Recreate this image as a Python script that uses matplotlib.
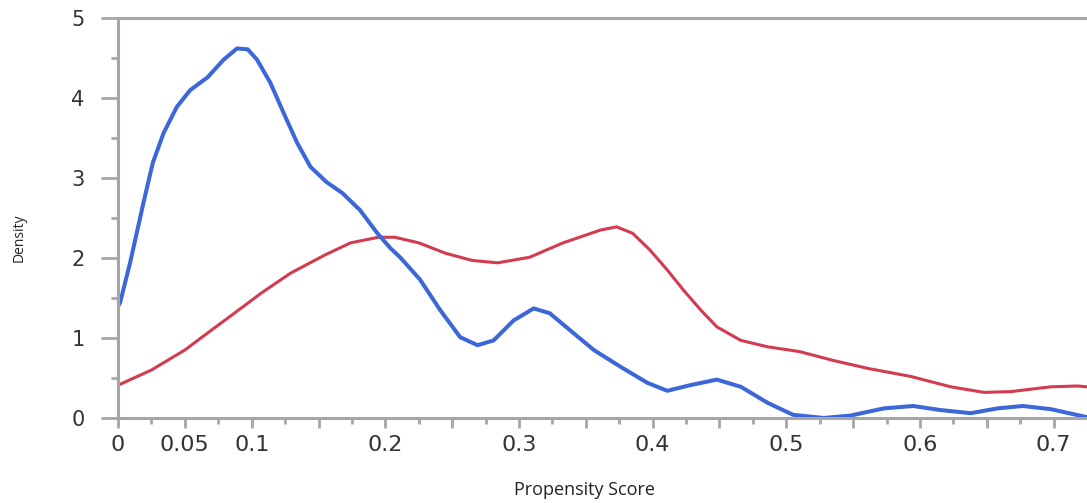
import matplotlib
matplotlib.use("Agg")
import matplotlib.pyplot as plt
import numpy as np

# blue curve
blue_x = [0.0, 0.0015, 0.009, 0.019, 0.026, 0.034, 0.044, 0.054, 0.067, 0.079,
          0.089, 0.097, 0.104, 0.114, 0.124, 0.134, 0.144, 0.156, 0.168, 0.181,
          0.194, 0.204, 0.211, 0.226, 0.241, 0.256, 0.269, 0.281, 0.296, 0.311,
          0.323, 0.338, 0.356, 0.376, 0.396, 0.411, 0.428, 0.448, 0.466, 0.486,
          0.505, 0.528, 0.548, 0.573, 0.595, 0.615, 0.638, 0.658, 0.677, 0.698,
          0.725]
blue_y = [1.40, 1.44, 1.94, 2.69, 3.19, 3.56, 3.89, 4.10, 4.26, 4.48,
          4.62, 4.61, 4.48, 4.19, 3.81, 3.44, 3.14, 2.95, 2.81, 2.60,
          2.31, 2.12, 2.01, 1.73, 1.35, 1.01, 0.91, 0.97, 1.22, 1.37,
          1.31, 1.10, 0.85, 0.64, 0.44, 0.34, 0.41, 0.48, 0.39, 0.19,
          0.04, 0.00, 0.03, 0.12, 0.15, 0.10, 0.06, 0.12, 0.15, 0.11,
          0.01]

# red curve
red_x = [0.0, 0.025, 0.05, 0.07, 0.087, 0.107, 0.129, 0.155, 0.174, 0.195,
         0.207, 0.225, 0.245, 0.265, 0.284, 0.308, 0.333, 0.361, 0.373, 0.385,
         0.398, 0.411, 0.423, 0.436, 0.448, 0.466, 0.486, 0.510, 0.535, 0.561,
         0.593, 0.623, 0.648, 0.668, 0.698, 0.718, 0.725]
red_y = [0.41, 0.60, 0.85, 1.10, 1.31, 1.56, 1.81, 2.04, 2.19, 2.26,
         2.26, 2.19, 2.06, 1.97, 1.94, 2.01, 2.19, 2.35, 2.39, 2.31,
         2.10, 1.85, 1.60, 1.35, 1.14, 0.97, 0.89, 0.83, 0.72, 0.62,
         0.52, 0.39, 0.32, 0.33, 0.39, 0.40, 0.39]

x_ticks = [0, 0.05, 0.1, 0.15, 0.2, 0.25, 0.3, 0.35, 0.4, 0.45, 0.5, 0.55, 0.6, 0.65, 0.7]
x_labels = ['0', '0.05', '0.1', '', '0.2', '', '0.3', '', '0.4', '', '0.5', '', '0.6', '', '0.7']
y_ticks = [0, 1, 2, 3, 4, 5]

fig = plt.figure(figsize=(10.87, 5.03), dpi=100)
ax = fig.add_axes([0.1086, 0.169, 0.8914, 0.795])

ax.plot(red_x, red_y, color='#d23b50', lw=2.2, solid_joinstyle='round', solid_capstyle='round')
ax.plot(blue_x, blue_y, color='#3c67d8', lw=2.9, solid_joinstyle='round', solid_capstyle='round')

ax.set_xlim(0, 0.725)
ax.set_ylim(0, 5)

ax.set_xticks(x_ticks)
ax.set_xticklabels(x_labels, fontsize=16, color='#333333')
ax.set_xticks(np.arange(0.025, 0.725, 0.05), minor=True)
ax.set_yticks(y_ticks)
ax.set_yticklabels([str(v) for v in y_ticks], fontsize=15, color='#333333')
ax.set_yticks([0.5, 1.5, 2.5, 3.5, 4.5], minor=True)

ax.tick_params(axis='x', which='major', length=7.5, width=2, color='#a6a6a6', pad=5)
ax.tick_params(axis='x', which='minor', length=4, width=2, color='#a6a6a6')
ax.tick_params(axis='y', which='major', length=12, width=2, color='#a6a6a6', pad=12)
ax.tick_params(axis='y', which='minor', length=5, width=2, color='#a6a6a6')

for s in ['left', 'bottom', 'top']:
    ax.spines[s].set_color('#a6a6a6')
    ax.spines[s].set_linewidth(2.2)
ax.spines['right'].set_visible(False)

fig.text(0.538, 0.026, 'Propensity Score', fontsize=13, ha='center', va='center',
         family='Open Sans', color='#222222')
fig.text(0.018, 0.527, 'Density', fontsize=10, ha='center', va='center', rotation=90,
         family='Open Sans', color='#222222')

fig.savefig('out.png', dpi=100)
